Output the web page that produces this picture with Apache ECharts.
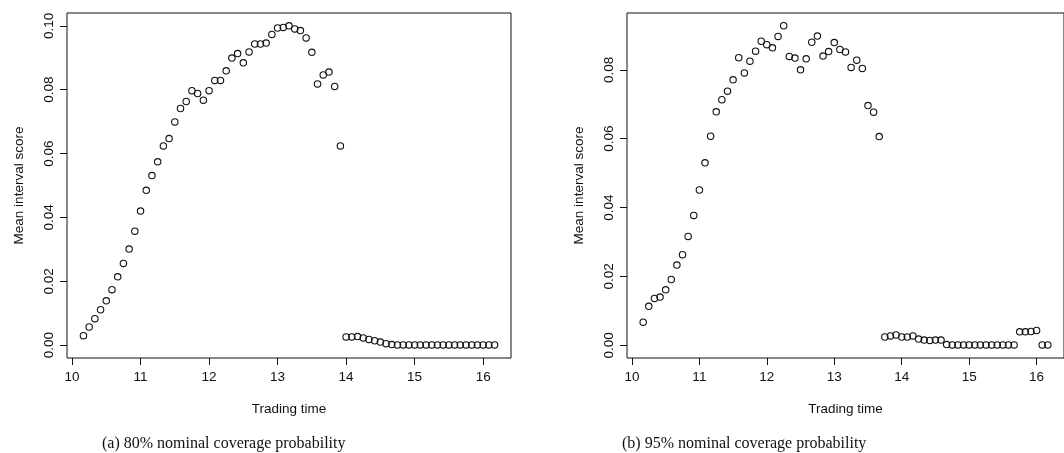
<!DOCTYPE html>
<html>
<head>
<meta charset="utf-8">
<script src="https://cdn.jsdelivr.net/npm/echarts@6/dist/echarts.min.js"></script>
<style>
  html, body { margin: 0; padding: 0; background: #fff; }
  #chart { width: 1064px; height: 453px; }
</style>
</head>
<body>
<div id="chart"></div>
<script>
// Five-minute trading times, 10:10 to 16:10
const tradingTimes = [
  '10:10','10:15','10:20','10:25','10:30','10:35','10:40','10:45','10:50','10:55',
  '11:00','11:05','11:10','11:15','11:20','11:25','11:30','11:35','11:40','11:45','11:50','11:55',
  '12:00','12:05','12:10','12:15','12:20','12:25','12:30','12:35','12:40','12:45','12:50','12:55',
  '13:00','13:05','13:10','13:15','13:20','13:25','13:30','13:35','13:40','13:45','13:50','13:55',
  '14:00','14:05','14:10','14:15','14:20','14:25','14:30','14:35','14:40','14:45','14:50','14:55',
  '15:00','15:05','15:10','15:15','15:20','15:25','15:30','15:35','15:40','15:45','15:50','15:55',
  '16:00','16:05','16:10'
];

// Mean interval score, 80% nominal coverage
const score80 = [
  0.0030, 0.0057, 0.0083, 0.0111, 0.0139, 0.0174, 0.0214, 0.0256, 0.0301, 0.0357,
  0.0420, 0.0485, 0.0531, 0.0574, 0.0624, 0.0647, 0.0699, 0.0741, 0.0763, 0.0797,
  0.0788, 0.0767, 0.0797, 0.0829, 0.0829, 0.0859, 0.0899, 0.0913, 0.0884, 0.0918,
  0.0943, 0.0943, 0.0946, 0.0973, 0.0993, 0.0995, 0.1000, 0.0990, 0.0985, 0.0962,
  0.0917, 0.0818, 0.0846, 0.0855, 0.0810, 0.0624,
  0.0026, 0.0026, 0.0027, 0.0023, 0.0018, 0.0014, 0.0010, 0.0005, 0.0002,
  0.0001, 0.0001, 0.0001, 0.0001, 0.0001, 0.0001, 0.0001, 0.0001, 0.0001,
  0.0001, 0.0001, 0.0001, 0.0001, 0.0001, 0.0001, 0.0001, 0.0001, 0.0001
];

// Mean interval score, 95% nominal coverage
const score95 = [
  0.0067, 0.0113, 0.0136, 0.0140, 0.0161, 0.0191, 0.0233, 0.0263, 0.0316, 0.0377,
  0.0451, 0.0530, 0.0607, 0.0678, 0.0713, 0.0738, 0.0771, 0.0835, 0.0791, 0.0825,
  0.0854, 0.0883, 0.0873, 0.0864, 0.0897, 0.0928, 0.0839, 0.0834, 0.0800, 0.0832,
  0.0880, 0.0898, 0.0840, 0.0853, 0.0879, 0.0859, 0.0852, 0.0807, 0.0828, 0.0804,
  0.0696, 0.0677, 0.0606,
  0.0024, 0.0027, 0.0030, 0.0024, 0.0024, 0.0027, 0.0018, 0.0015, 0.0014, 0.0015, 0.0015,
  0.0002, 0.0001, 0.0001, 0.0001, 0.0001, 0.0001, 0.0001, 0.0001, 0.0001, 0.0001,
  0.0001, 0.0001, 0.0001,
  0.0039, 0.0039, 0.0040, 0.0043,
  0.0001, 0.0001
];

const xTicks = [10, 11, 12, 13, 14, 15, 16];
const yTicks80 = [0, 0.02, 0.04, 0.06, 0.08, 0.10];
const yTicks95 = [0, 0.02, 0.04, 0.06, 0.08];
const captions = ['(a) 80% nominal coverage probability', '(b) 95% nominal coverage probability'];

const hours = tradingTimes.map(t => {
  const [h, m] = t.split(':').map(Number);
  return h + m / 60;
});

const sansFont = '"Liberation Sans", Arial, Helvetica, sans-serif';
const serifFont = '"Liberation Serif", "Times New Roman", serif';
const ink = '#111';

function xAxisFor(gridIndex) {
  return {
    type: 'value', gridIndex,
    min: 9.9267, max: 16.4067,
    name: 'Trading time', nameLocation: 'middle', nameGap: 44,
    nameTextStyle: { fontFamily: sansFont, fontSize: 13.5, color: ink },
    splitLine: { show: false },
    axisLine: { show: false, onZero: false },
    axisTick: { show: true, length: 7, inside: false, customValues: xTicks,
      lineStyle: { color: ink, width: 1 } },
    axisLabel: { show: true, customValues: xTicks, margin: 12,
      fontFamily: sansFont, fontSize: 13.5, color: ink }
  };
}

function yAxisFor(gridIndex, min, max, ticks) {
  return {
    type: 'value', gridIndex, min, max,
    name: 'Mean interval score', nameLocation: 'middle', nameGap: 41, nameRotate: 90,
    nameTextStyle: { fontFamily: sansFont, fontSize: 13.5, color: ink },
    splitLine: { show: false },
    axisLine: { show: false, onZero: false },
    axisTick: { show: true, length: 7, inside: false, customValues: ticks,
      lineStyle: { color: ink, width: 1 } },
    axisLabel: { show: true, customValues: ticks, margin: 11, rotate: 90,
      fontFamily: sansFont, fontSize: 13.5, color: ink,
      formatter: v => v.toFixed(2) }
  };
}

function scatterFor(idx, values) {
  return {
    type: 'scatter', xAxisIndex: idx, yAxisIndex: idx,
    data: values.map((v, i) => [hours[i], v]),
    symbol: 'circle', symbolSize: 6.4,
    itemStyle: { color: 'rgba(0,0,0,0)', borderColor: ink, borderWidth: 1.1, opacity: 1 },
    emphasis: { disabled: true },
    animation: false
  };
}

const chart = echarts.init(document.getElementById('chart'), null, { renderer: 'canvas' });
chart.setOption({
  backgroundColor: '#fff',
  animation: false,
  grid: [
    { left: 67, top: 13, width: 444, height: 345, show: true, borderColor: ink, borderWidth: 1, backgroundColor: 'transparent' },
    { left: 627, top: 13, width: 443, height: 345, show: true, borderColor: ink, borderWidth: 1, backgroundColor: 'transparent' }
  ],
  xAxis: [xAxisFor(0), xAxisFor(1)],
  yAxis: [
    yAxisFor(0, -0.004, 0.104, yTicks80),
    yAxisFor(1, -0.0037, 0.0965, yTicks95)
  ],
  series: [scatterFor(0, score80), scatterFor(1, score95)],
  graphic: [
    { type: 'text', left: 102, top: 436,
      style: { text: captions[0], font: '16px ' + serifFont, fill: ink } },
    { type: 'text', left: 622, top: 436,
      style: { text: captions[1], font: '16px ' + serifFont, fill: ink } }
  ]
});
</script>
</body>
</html>
